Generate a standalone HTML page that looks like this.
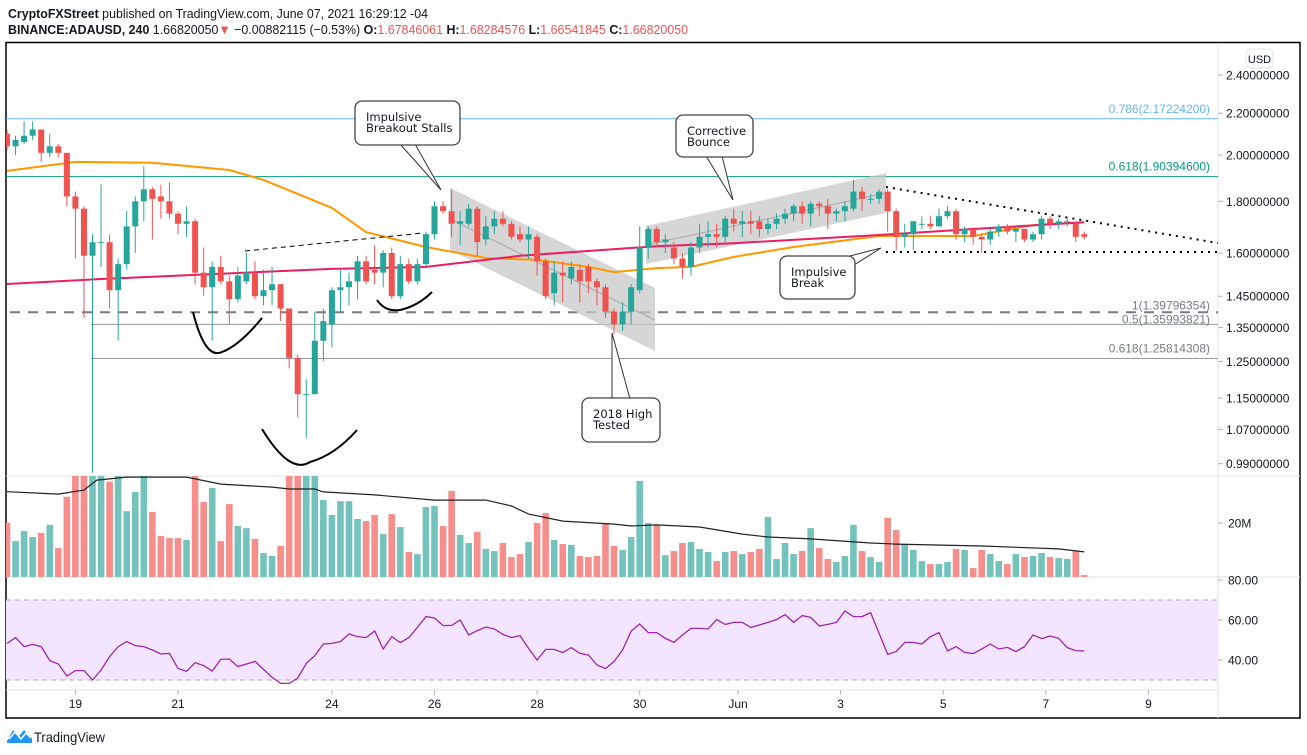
<!DOCTYPE html>
<html><head><meta charset="utf-8"><title>ADAUSD chart</title>
<style>
html,body{margin:0;padding:0;background:#fff;width:1307px;height:755px;overflow:hidden;}
svg{display:block;font-family:"Liberation Sans",sans-serif;}
</style></head>
<body>
<svg id="chart" width="1307" height="755" viewBox="0 0 1307 755" xmlns="http://www.w3.org/2000/svg">
<defs>
<clipPath id="pc"><rect x="6" y="43" width="1212" height="432"/></clipPath>
<clipPath id="vc"><rect x="6" y="476" width="1212" height="101"/></clipPath>
<clipPath id="rc"><rect x="6" y="578" width="1212" height="112"/></clipPath>
</defs>
<text x="8" y="18" font-size="13" fill="#131722" textLength="420" lengthAdjust="spacingAndGlyphs"><tspan font-weight="bold">CryptoFXStreet</tspan> published on TradingView.com, June 07, 2021 16:29:12 -04</text>
<text x="8" y="34" font-size="13" fill="#131722" textLength="680" lengthAdjust="spacingAndGlyphs"><tspan font-weight="bold">BINANCE:ADAUSD, 240</tspan> 1.66820050<tspan fill="#ef5350">▼</tspan> −0.00882115 (−0.53%) <tspan font-weight="bold">O:</tspan><tspan fill="#ef5350">1.67846061</tspan> <tspan font-weight="bold">H:</tspan><tspan fill="#ef5350">1.68284576</tspan> <tspan font-weight="bold">L:</tspan><tspan fill="#ef5350">1.66541845</tspan> <tspan font-weight="bold">C:</tspan><tspan fill="#ef5350">1.66820050</tspan></text>
<rect x="6" y="42.5" width="1294" height="675.5" fill="none" stroke="#000" stroke-width="1.5"/>
<line x1="1218" y1="43" x2="1218" y2="718" stroke="#e0e3eb"/>
<line x1="6" y1="476" x2="1300" y2="476" stroke="#e0e3eb"/>
<line x1="6" y1="577" x2="1300" y2="577" stroke="#e0e3eb"/>
<line x1="6" y1="690" x2="1218" y2="690" stroke="#e0e3eb"/>
<g id="axes"></g>
<g id="price" clip-path="url(#pc)"></g>
<g id="vol" clip-path="url(#vc)"></g>
<g id="rsi" clip-path="url(#rc)"></g>
<g id="notes"></g>
<rect x="1246" y="49" width="27" height="19" rx="4" fill="#fff" stroke="#e0e3eb"/>
<text x="1259.5" y="63" font-size="11" text-anchor="middle" fill="#131722">USD</text>
<g>
<path d="M7 741 L13 730 L19 736 L24 730 L32 738 L32 743 L7 743 Z" fill="#2196f3"/>
<polyline points="9,739 15,732 21,739 26,733 31,738" fill="none" stroke="#fff" stroke-width="1.5"/>
<text x="34" y="742" font-size="14" fill="#131722" textLength="71" lengthAdjust="spacingAndGlyphs">TradingView</text>
</g>
</svg>
<script>
const opens=[2.10,2.04,2.06,2.09,2.12,2.01,2.04,2.01,1.82,1.77,1.59,1.64,1.64,1.47,1.56,1.70,1.80,1.85,1.82,1.80,1.75,1.71,1.72,1.53,1.48,1.55,1.50,1.44,1.50,1.53,1.45,1.47,1.49,1.41,1.26,1.16,1.16,1.31,1.36,1.47,1.48,1.50,1.57,1.54,1.53,1.60,1.45,1.56,1.50,1.56,1.67,1.78,1.76,1.71,1.71,1.77,1.65,1.70,1.73,1.71,1.67,1.65,1.66,1.57,1.46,1.53,1.51,1.54,1.55,1.50,1.48,1.40,1.36,1.40,1.47,1.62,1.69,1.64,1.62,1.58,1.55,1.62,1.66,1.67,1.66,1.73,1.71,1.72,1.72,1.69,1.71,1.73,1.75,1.78,1.75,1.79,1.78,1.75,1.76,1.77,1.84,1.81,1.81,1.84,1.76,1.66,1.67,1.71,1.71,1.70,1.74,1.76,1.67,1.69,1.66,1.65,1.68,1.70,1.68,1.69,1.65,1.67,1.73,1.71,1.72,1.71,1.67];
const closes=[2.04,2.07,2.09,2.12,2.01,2.04,2.01,1.82,1.77,1.59,1.64,1.64,1.47,1.56,1.70,1.80,1.85,1.81,1.80,1.75,1.71,1.72,1.53,1.48,1.55,1.50,1.44,1.52,1.53,1.45,1.47,1.49,1.41,1.26,1.16,1.16,1.31,1.37,1.47,1.48,1.50,1.57,1.50,1.53,1.60,1.45,1.56,1.50,1.56,1.67,1.78,1.76,1.71,1.72,1.77,1.64,1.70,1.73,1.71,1.66,1.65,1.67,1.57,1.45,1.53,1.52,1.55,1.50,1.50,1.48,1.40,1.36,1.40,1.48,1.62,1.69,1.64,1.65,1.58,1.55,1.62,1.66,1.67,1.66,1.73,1.71,1.72,1.71,1.69,1.71,1.73,1.75,1.78,1.75,1.79,1.78,1.75,1.76,1.78,1.84,1.81,1.81,1.84,1.76,1.66,1.67,1.72,1.71,1.70,1.74,1.76,1.67,1.69,1.66,1.65,1.68,1.70,1.68,1.69,1.65,1.67,1.73,1.71,1.72,1.72,1.66,1.66];
const highs=[2.12,2.09,2.16,2.16,2.12,2.10,2.05,2.01,1.84,1.78,1.67,1.87,1.67,1.58,1.76,1.82,1.95,1.86,1.87,1.88,1.76,1.78,1.73,1.62,1.57,1.59,1.52,1.55,1.60,1.57,1.54,1.55,1.49,1.41,1.27,1.20,1.40,1.41,1.48,1.54,1.53,1.59,1.59,1.63,1.61,1.62,1.59,1.58,1.58,1.68,1.80,1.80,1.85,1.76,1.79,1.78,1.74,1.76,1.76,1.72,1.70,1.70,1.67,1.58,1.57,1.57,1.57,1.56,1.56,1.51,1.49,1.41,1.43,1.49,1.70,1.70,1.70,1.67,1.64,1.60,1.64,1.71,1.72,1.71,1.74,1.77,1.76,1.76,1.74,1.73,1.75,1.77,1.79,1.80,1.80,1.80,1.81,1.77,1.80,1.89,1.86,1.83,1.85,1.85,1.77,1.71,1.72,1.74,1.74,1.77,1.78,1.77,1.70,1.69,1.67,1.69,1.71,1.71,1.70,1.69,1.68,1.74,1.74,1.73,1.73,1.72,1.68];
const lows=[2.02,2.00,2.05,2.07,1.97,1.99,1.99,1.78,1.58,1.38,0.97,1.55,1.41,1.31,1.54,1.60,1.72,1.65,1.73,1.73,1.67,1.66,1.49,1.45,1.31,1.49,1.36,1.43,1.49,1.44,1.42,1.42,1.37,1.23,1.10,1.05,1.16,1.25,1.29,1.40,1.42,1.44,1.49,1.49,1.48,1.44,1.44,1.49,1.49,1.55,1.65,1.75,1.66,1.63,1.70,1.59,1.63,1.67,1.70,1.65,1.64,1.58,1.52,1.44,1.42,1.43,1.49,1.43,1.46,1.42,1.38,1.33,1.34,1.36,1.46,1.58,1.62,1.60,1.56,1.51,1.52,1.60,1.62,1.62,1.64,1.68,1.66,1.67,1.66,1.67,1.69,1.71,1.72,1.71,1.70,1.74,1.69,1.72,1.72,1.76,1.76,1.79,1.79,1.68,1.61,1.62,1.61,1.69,1.69,1.70,1.73,1.65,1.64,1.63,1.60,1.63,1.66,1.67,1.64,1.64,1.64,1.65,1.69,1.69,1.70,1.64,1.65];
const volumes=[20.1,13.3,17.0,14.8,16.3,19.3,10.7,29.7,40,45,42,40,35.3,40,24.4,31.5,40,24.1,15.2,14.4,14.4,13.7,38,27.8,33,13.3,27,18.9,18.1,14.1,8.9,7.8,11.5,45,48,45,40,28.5,23,28.1,28.1,21.5,20.7,23,15.9,23.3,18.5,9.3,8.5,25.9,26.3,18.9,31.9,15.6,12.6,16.7,10.4,9.6,12.6,7.4,8.5,13,20,23.7,13.7,12.2,11.9,7.8,7.4,7.8,20,11.5,10,14.8,35.6,20,19.3,8.1,9.6,12.6,13,10.4,9.3,5.9,9.3,9.6,8.5,9.3,10.4,22.2,6.7,12.6,8.5,9.6,18.1,10.7,6.7,5.6,7.8,19.3,9.6,7.4,5.6,21.9,17.4,12.2,10,5.9,4.8,4.8,5.6,10.4,10,3.3,10,8.5,5.9,4.8,8.5,7.4,7.8,8.9,7.4,7,6.7,9.6,0.7];
const volMaIdx=[0,6,9,10.5,14,21,25,31,33,36,37,43,50,56,59,61,65,71,73,76,81,86,89,94,101,104,114,123,126];
const volMaVal=[31.6,30.7,32.2,35.9,37,37,34.4,33.3,32.6,32.6,31.5,30.4,28.5,28.5,26.3,23.3,20.7,19.6,18.9,19.3,18.5,15.9,14.8,14.1,12.6,12.2,11.5,10.4,9.3];
const rsiVals=[48.3,51.2,46.7,47.8,46.7,39.7,38,32,34.7,34.7,30,35,41.7,46.7,49.2,47.2,46.7,45,43,43.3,35.8,34.3,38.7,37.2,34.5,40.3,40.5,36.7,38,39.3,35.3,31.3,28.3,28.3,31,38.3,42.2,48,48.3,49.2,53,51.7,51.2,54.5,45.5,51.7,48.7,51.2,56.3,61.7,61,57.2,57.3,60,52.5,54.7,56.5,55.5,52.8,51.2,52.2,45.8,40,45.3,45.3,43.7,46.2,43.3,42.5,37.5,35.7,39.3,45,54.5,58,53.7,53.7,50.8,48.8,52.5,55.8,55.8,55.5,60.2,57.8,58.8,58.8,56.3,57.5,58.8,60.2,62.7,58.8,62.2,61.3,57,57.8,58.8,64.5,61.7,61.7,63.7,53.3,42.8,44.2,48.8,48.8,48,51.7,53.7,44.5,46.7,43.8,43.2,45.5,48,45.5,46.3,44.2,46.7,52.5,50.7,52,50.8,46.2,44.7,44.5];
const ma50Idx=[0,8,17,26,30,38,42,49,56,62,68,71,76,80,85,92,102,113,120,126];
const ma50Val=[1.929,1.969,1.965,1.933,1.890,1.773,1.678,1.622,1.582,1.575,1.55,1.532,1.546,1.55,1.586,1.622,1.663,1.663,1.705,1.716];
const ma200Idx=[0,11,38,49,60,76,85,102,113,126];
const ma200Val=[1.491,1.508,1.543,1.55,1.59,1.625,1.636,1.667,1.69,1.716];
const priceTicks=["2.40000000","2.20000000","2.00000000","1.80000000","1.60000000","1.45000000","1.35000000","1.25000000","1.15000000","1.07000000","0.99000000"];
const dayLabels=["19","21","24","26","28","30","Jun","3","5","7","9"];
const dayIdx=[8,20,38,50,62,74,85.5,97.5,109.5,121.5,133.5];
const rsiTicks=["80.00","60.00","40.00"];
const fibLevels=[2.172242,1.903946,1.39796354,1.35993821,1.25814308];
const fibLabels=["0.786(2.17224200)","0.618(1.90394600)","1(1.39796354)","0.5(1.35993821)","0.618(1.25814308)"];

const NS="http://www.w3.org/2000/svg";
const X0=7, STEP=8.55;
function xAt(i){return X0+i*STEP;}
function yP(p){return 75+(Math.log(2.4)-Math.log(p))*439;}
function yV(v){return 577-v*2.7;}
function yR(v){return 580+(80-v)*2;}
function mk(parent,tag,attrs){const e=document.createElementNS(NS,tag);for(const k in attrs)e.setAttribute(k,attrs[k]);parent.appendChild(e);return e;}
const G=document.getElementById('price'),V=document.getElementById('vol'),R=document.getElementById('rsi'),A=document.getElementById('axes'),N=document.getElementById('notes');

// price axis
priceTicks.forEach(t=>{const y=yP(parseFloat(t));
 mk(A,'line',{x1:1218,y1:y,x2:1223,y2:y,stroke:'#b2b5be'});
 const tx=mk(A,'text',{x:1226,y:y+4.5,'font-size':12,fill:'#131722'});tx.textContent=t;
 
 });
// volume axis
{const y=yV(20);mk(A,'line',{x1:1218,y1:y,x2:1223,y2:y,stroke:'#b2b5be'});const t=mk(A,'text',{x:1228,y:y+4.5,'font-size':12,fill:'#131722'});t.textContent='20M';
 
 }
rsiTicks.forEach(t=>{const y=yR(parseFloat(t));mk(A,'line',{x1:1218,y1:y,x2:1223,y2:y,stroke:'#b2b5be'});const tx=mk(A,'text',{x:1228,y:y+4.5,'font-size':12,fill:'#131722'});tx.textContent=t;
 
 });
dayLabels.forEach((d,k)=>{const x=xAt(dayIdx[k]);mk(A,'line',{x1:x,y1:690,x2:x,y2:695,stroke:'#b2b5be'});const t=mk(A,'text',{x:x,y:708,'font-size':12,fill:'#131722','text-anchor':'middle'});t.textContent=d;
 
 });

// fib lines
const fibColors=['#64b5f6','#089981','#787b86','#787b86','#787b86'];
const fibTextColors=['#64b5f6','#089981','#787b86','#787b86','#787b86'];
fibLevels.forEach((p,k)=>{const y=yP(p);let l;
 if(k===2){l=mk(G,'line',{x1:10,y1:y,x2:1218,y2:y,stroke:'#787b86','stroke-width':2,'stroke-dasharray':'10 8'});}
 else if(k>=3){l=mk(G,'line',{x1:91,y1:y,x2:1218,y2:y,stroke:'#9598a1','stroke-width':1});}
 else{l=mk(G,'line',{x1:6,y1:y,x2:1218,y2:y,stroke:fibColors[k],'stroke-width':1});}
 
 
 const ty=(k===2)?y-3:(k===3?y-1:y-6);
 const t=mk(G,'text',{x:1210,y:ty,'font-size':12,fill:fibTextColors[k],'text-anchor':'end'});t.textContent=fibLabels[k];
 
 });

// channels
const ch1=mk(G,'polygon',{points:'450,188 655,288 655,351 450,250',fill:'#c8c8c8','fill-opacity':0.75});


mk(G,'line',{x1:450,y1:219,x2:655,y2:320,stroke:'#a9a9a9'});
const ch2=mk(G,'polygon',{points:'646,226 886,173 886,213 646,264',fill:'#c8c8c8','fill-opacity':0.75});


mk(G,'line',{x1:646,y1:245,x2:886,y2:193,stroke:'#a9a9a9'});

// moving averages
function maPath(idx,val){return idx.map((i,k)=>(k?'L':'M')+xAt(i).toFixed(1)+' '+yP(val[k]).toFixed(1)).join(' ');}
const m1=mk(G,'path',{d:maPath(ma50Idx,ma50Val),fill:'none',stroke:'#ff9800','stroke-width':2});


const m2=mk(G,'path',{d:maPath(ma200Idx,ma200Val),fill:'none',stroke:'#e91e63','stroke-width':2});



// candles
closes.forEach((c,i)=>{const o=opens[i],up=c>=o,col=up?'#26a69a':'#ef5350',x=xAt(i);
 const w=mk(G,'line',{x1:x,y1:yP(highs[i]),x2:x,y2:yP(lows[i]),stroke:col,'stroke-width':1});
 
 
 const t=Math.min(yP(o),yP(c)),h=Math.max(1,Math.abs(yP(o)-yP(c)));
 const b=mk(G,'rect',{x:x-3,y:t,width:6,height:h,fill:col});
 
 
 // volume
 const vy=yV(volumes[i]);
 const vb=mk(V,'rect',{x:x-3.3,y:vy,width:6.6,height:577-vy,fill:up?'#73c3bc':'#f68e8b'});
 
 
});
const vm=mk(V,'path',{d:volMaIdx.map((i,k)=>(k?'L':'M')+xAt(i).toFixed(1)+' '+yV(volMaVal[k]).toFixed(1)).join(' '),fill:'none',stroke:'#222','stroke-width':1.2});



// RSI
const band=mk(R,'rect',{x:6,y:yR(70),width:1212,height:yR(30)-yR(70),fill:'#f3e5fd'});


mk(R,'line',{x1:6,y1:yR(70),x2:1218,y2:yR(70),stroke:'#b8a9bd','stroke-dasharray':'5 4'});
mk(R,'line',{x1:6,y1:yR(30),x2:1218,y2:yR(30),stroke:'#b8a9bd','stroke-dasharray':'5 4'});
const rl=mk(R,'path',{d:rsiVals.map((v,i)=>(i?'L':'M')+xAt(i).toFixed(1)+' '+yR(v).toFixed(1)).join(' '),fill:'none',stroke:'#9c27b0','stroke-width':1.3});



// drawings
const d1=mk(N,'line',{x1:245,y1:251,x2:423,y2:233,stroke:'#000','stroke-dasharray':'5 4'});


const d2=mk(N,'line',{x1:886,y1:187,x2:1218,y2:243,stroke:'#000','stroke-width':2,'stroke-dasharray':'2 5'});


const d3=mk(N,'line',{x1:886,y1:252,x2:1218,y2:252,stroke:'#000','stroke-width':2,'stroke-dasharray':'2 5'});


[['M193 312 Q205 360 222 352 Q240 345 262 318','left-shoulder-arc'],['M262 429 Q290 475 310 462 Q335 455 357 430','head-arc'],['M377 300 Q385 312 400 310 Q418 306 432 292','right-shoulder-arc']].forEach(a=>{
 const p=mk(N,'path',{d:a[0],fill:'none',stroke:'#000','stroke-width':2});
 
 });
function callout(name,bx,by,bw,bh,ptr,lines){
 const g=mk(N,'g',{});
 
 
 mk(g,'polygon',{points:ptr,fill:'#fff',stroke:'#333','stroke-width':1});
 mk(g,'rect',{x:bx,y:by,width:bw,height:bh,rx:7,fill:'#fff',stroke:'#444','stroke-width':1.3});
 lines.forEach((s,k)=>{const t=mk(g,'text',{x:bx+11,y:by+20+k*11,'font-size':11.5,fill:'#131722','font-family':'DejaVu Sans, sans-serif'});t.textContent=s;});
}
callout('callout-breakout-stalls',355,101,105,44,'400,144 415,144 441,190',['Impulsive','Breakout Stalls']);
callout('callout-corrective-bounce',676,115,77,42,'706,156 722,156 733,200',['Corrective','Bounce']);
callout('callout-impulsive-break',780,256,75,43,'846,257 854,265 881,248',['Impulsive','Break']);
callout('callout-2018-high',582,398,78,44,'612,399 630,399 612,333',['2018 High','Tested']);
</script>
</body></html>
